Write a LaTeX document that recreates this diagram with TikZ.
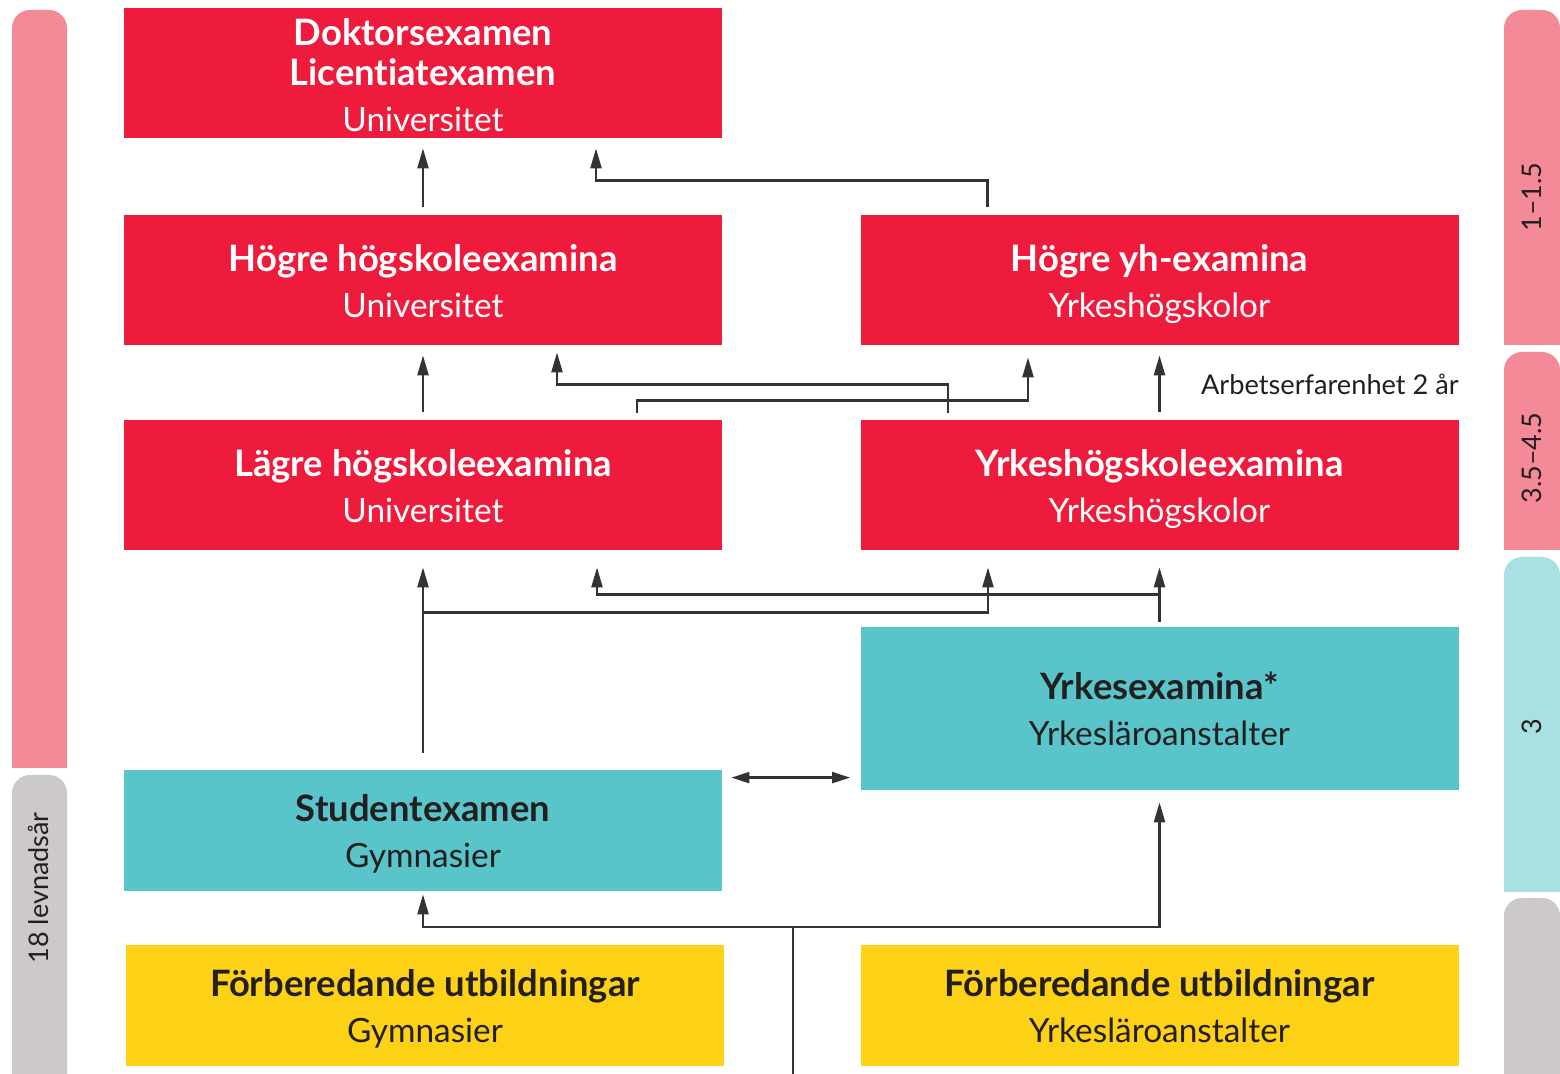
\documentclass[tikz,border=0pt]{standalone}
\usepackage{fontspec}
\setmainfont{Lato}
\usetikzlibrary{arrows.meta,calc}
\definecolor{boxred}{HTML}{EE1B3C}
\definecolor{barpink}{HTML}{F48A98}
\definecolor{bargray}{HTML}{CCC8CC}
\definecolor{boxteal}{HTML}{59C5CA}
\definecolor{barteal}{HTML}{A9E0E2}
\definecolor{boxyellow}{HTML}{FDD116}
\definecolor{linec}{HTML}{333333}
\definecolor{darktext}{HTML}{231F20}
\tikzset{
  box/.style={rectangle, inner sep=0pt, minimum width=299pt, minimum height=65pt, align=center,
    font=\fontsize{18.2}{23}\selectfont},
  redbox/.style={box, fill=boxred, text=white},
  tealbox/.style={box, fill=boxteal, text=darktext},
  yellowbox/.style={box, fill=boxyellow, text=darktext, minimum height=60.5pt},
  arr/.style={draw=linec, line width=1.2pt, -{Triangle[length=10pt,width=5.5pt]}},
  dblarr/.style={draw=linec, line width=1.2pt, {Triangle[length=9pt,width=5.5pt]}-{Triangle[length=9pt,width=5.5pt]}},
  ln/.style={draw=linec, line width=1.2pt},
  barlabel/.style={rotate=90, font=\fontsize{13.5}{15}\selectfont, text=darktext},
}
\newcommand{\ttl}[1]{\textbf{\vphantom{Åg}#1}}
\newcommand{\sub}[1]{{\fontsize{16.7}{23}\selectfont\mdseries\vphantom{Åg}#1}}
\begin{document}
\begin{tikzpicture}[x=0.5pt,y=-0.5pt]
\useasboundingbox (0,0) rectangle (1560,1074);
% side bars
\fill[barpink] (12,768) [rounded corners=9pt] -- (12,10) -- (67,10) [sharp corners] -- (67,768) -- cycle;
\fill[bargray] (12,1074) [rounded corners=9pt] -- (12,775) -- (67,775) [sharp corners] -- (67,1074) -- cycle;
\fill[barpink] (1504,345) [rounded corners=9pt] -- (1504,10) -- (1560,10) [sharp corners] -- (1560,345) -- cycle;
\fill[barpink] (1504,550) [rounded corners=9pt] -- (1504,352) -- (1560,352) [sharp corners] -- (1560,550) -- cycle;
\fill[barteal] (1504,892) [rounded corners=9pt] -- (1504,557) -- (1560,557) [sharp corners] -- (1560,892) -- cycle;
\fill[bargray] (1504,1074) [rounded corners=9pt] -- (1504,898) -- (1560,898) [sharp corners] -- (1560,1074) -- cycle;
\node[barlabel] (lev) at (38,888) {18 levnadsår};
\node[barlabel] (r1) at (1532,197) {1–1.5};
\node[barlabel] (r2) at (1532,458) {3.5–4.5};
\node[barlabel] (r3) at (1532,727) {3};

% boxes
\node[redbox] (dok) at (423,73) {\rule{0pt}{18.6pt}\ttl{Doktorsexamen}\\[-3pt]\ttl{Licent\kern0pt iatexamen}\\[0pt]\sub{Universitet}};
\node[redbox] (hh) at (423,280) {\ttl{Högre högskoleexamina}\\\sub{Universitet}};
\node[redbox] (hy) at (1159.5,280) {\ttl{Högre yh-examina}\\\sub{Yrkeshögskolor}};
\node[redbox] (lh) at (423,485) {\ttl{Lägre högskoleexamina}\\\sub{Universitet}};
\node[redbox] (yh) at (1159.5,485) {\ttl{Yrkeshögskoleexamina}\\\sub{Yrkeshögskolor}};
\node[tealbox, minimum height=81.5pt] (ye) at (1159.5,708.5) {\ttl{Yrkesexamina*}\\\sub{Yrkesläroanstalter}};
\node[tealbox, minimum height=60.5pt] (st) at (423,830.5) {\ttl{Studentexamen}\\\sub{Gymnasier}};
\node[yellowbox] (fg) at (425,1005.5) {\ttl{Förberedande utbildningar}\\\sub{Gymnasier}};
\node[yellowbox] (fy) at (1159.5,1005.5) {\ttl{Förberedande utbildningar}\\\sub{Yrkesläroanstalter}};

\node[anchor=west, font=\fontsize{13.6}{15}\selectfont, text=darktext] (arb) at (1194,384) {Arbetserfarenhet 2 år};

% connectors
\draw[arr] ([yshift=4pt]hh.north) -- ([yshift=-5pt]dok.south);
\draw[arr] ([xshift=-86pt,yshift=4pt]hy.north) -- ([xshift=-86pt,yshift=17pt]hy.north) -| ([xshift=86.5pt,yshift=-5pt]dok.south);

\draw[arr] ([yshift=4pt]lh.north) -- ([yshift=-5pt]hh.south);
\draw[arr] ([xshift=107pt,yshift=3.5pt]lh.north) -- ([xshift=107pt,yshift=9.5pt]lh.north) -| ([xshift=-65.75pt,yshift=-6pt]hy.south);
\draw[arr] ([xshift=-105.75pt,yshift=3.5pt]yh.north) -- ([xshift=-105.75pt,yshift=17.5pt]yh.north) -| ([xshift=67pt,yshift=-3.5pt]hh.south);
\draw[arr] ([yshift=4pt]yh.north) -- ([yshift=-5pt]hy.south);

\draw[arr] ([yshift=8.5pt]st.north) -- ([yshift=-8.5pt]lh.south);
\draw[arr] ([yshift=78.5pt]st.north) -| ([xshift=-85.75pt,yshift=-8.5pt]yh.south);
\draw[arr] ([yshift=2.5pt]ye.north) -- ([yshift=-8.5pt]yh.south);
\draw[arr] ([yshift=16pt]ye.north) -| ([xshift=87pt,yshift=-8.5pt]lh.south);

\draw[dblarr] ([xshift=4.5pt,yshift=-4pt]st.north east) -- ([xshift=-5pt,yshift=-4pt]st.north east -| ye.west);

\coordinate (bot) at (793,1074);
\coordinate (j) at (793,927);
\draw[ln] (bot) -- (j);
\draw[arr] (j) -| ([yshift=-1.5pt]st.south);
\draw[arr] (j) -| ([yshift=-6pt]ye.south);
\end{tikzpicture}
\end{document}
